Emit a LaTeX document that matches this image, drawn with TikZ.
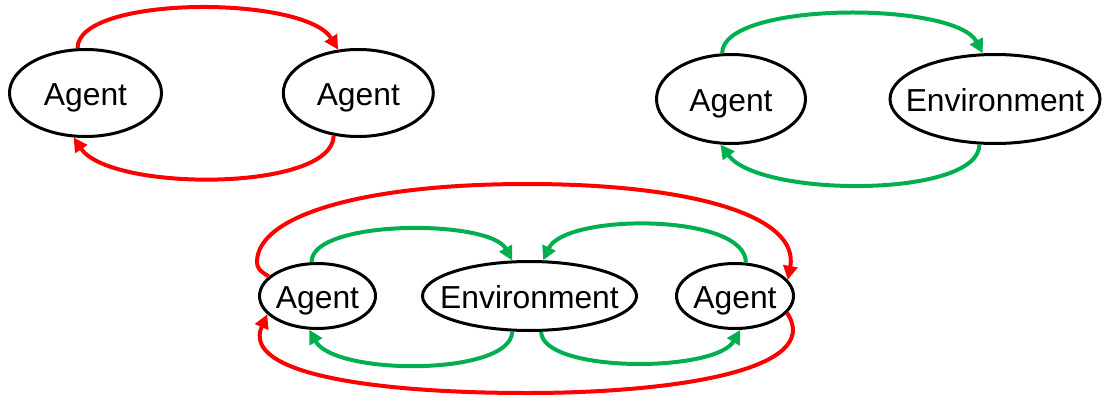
\documentclass[tikz,border=0pt]{standalone}
\usepackage{fontspec}
\setmainfont{Liberation Sans}
\usetikzlibrary{shapes.geometric,arrows.meta}
\definecolor{myred}{RGB}{255,0,0}
\definecolor{mygreen}{RGB}{0,176,80}
\begin{document}
\begin{tikzpicture}[x=1pt,y=-1pt,
  ell/.style={ellipse, draw=black, line width=3pt, inner sep=0pt, inner xsep=-40pt,
    text height=24pt, text depth=0pt, font=\fontsize{31.8}{38}\selectfont},
  conn/.style={line width=4pt, -{Triangle[length=14pt,width=14pt]}},
  redc/.style={conn, draw=myred},
  greenc/.style={conn, draw=mygreen}]
\useasboundingbox (0,0) rectangle (1103,396);
% top left
\node[ell, minimum width=152pt, minimum height=87pt] (a1) at (85.5,93) {Agent};
\node[ell, minimum width=150pt, minimum height=87pt] (a2) at (358.3,93) {Agent};
% top right
\node[ell, minimum width=149pt, minimum height=89pt] (a3) at (731,99) {Agent};
\node[ell, minimum width=210pt, minimum height=89pt] (e1) at (995,99) {Environment};
% bottom
\node[ell, minimum width=116pt, minimum height=65pt] (a4) at (317.5,296) {Agent};
\node[ell, minimum width=214pt, minimum height=69pt] (e2) at (529.5,296) {Environment};
\node[ell, minimum width=117pt, minimum height=65pt] (a5) at (735,296) {Agent};

\draw[redc] (a1.100.7) .. controls (77,-5) and (305,-5) .. (a2.115.8);
\draw[redc] (a2.240.6) .. controls (333,192) and (110,192) .. (a1.255);
\draw[greenc] (a3.101) .. controls (722,1) and (955,1) .. (e1.105.8);
\draw[greenc] (e1.251.9) .. controls (980,198) and (760,198) .. (a3.257.6);

\draw[greenc] (a4.100.8) .. controls (311,219) and (490,219) .. (e2.116.3);
\draw[greenc] (a5.72.7) .. controls (746,213) and (565,213) .. (e2.69);
\draw[greenc] (e2.244.5) .. controls (512,376) and (335,376) .. (a4.256.7);
\draw[greenc] (e2.288) .. controls (542,373) and (715,373) .. (a5.279.7);

\coordinate (rl) at (257,262);
\coordinate (rtop) at (527,184);
\coordinate (rbot) at (527,393);
\draw[redc] (a4.158) .. controls (259,271) and (257,267) .. (rl)
  .. controls (257,215) and (365,184) .. (rtop)
  .. controls (689,184) and (800,215) .. (a5.17.2);
\draw[redc] (a5.342.8) .. controls (825,370) and (674,393) .. (rbot)
  .. controls (380,393) and (240,375) .. (a4.200.7);
\end{tikzpicture}
\end{document}
